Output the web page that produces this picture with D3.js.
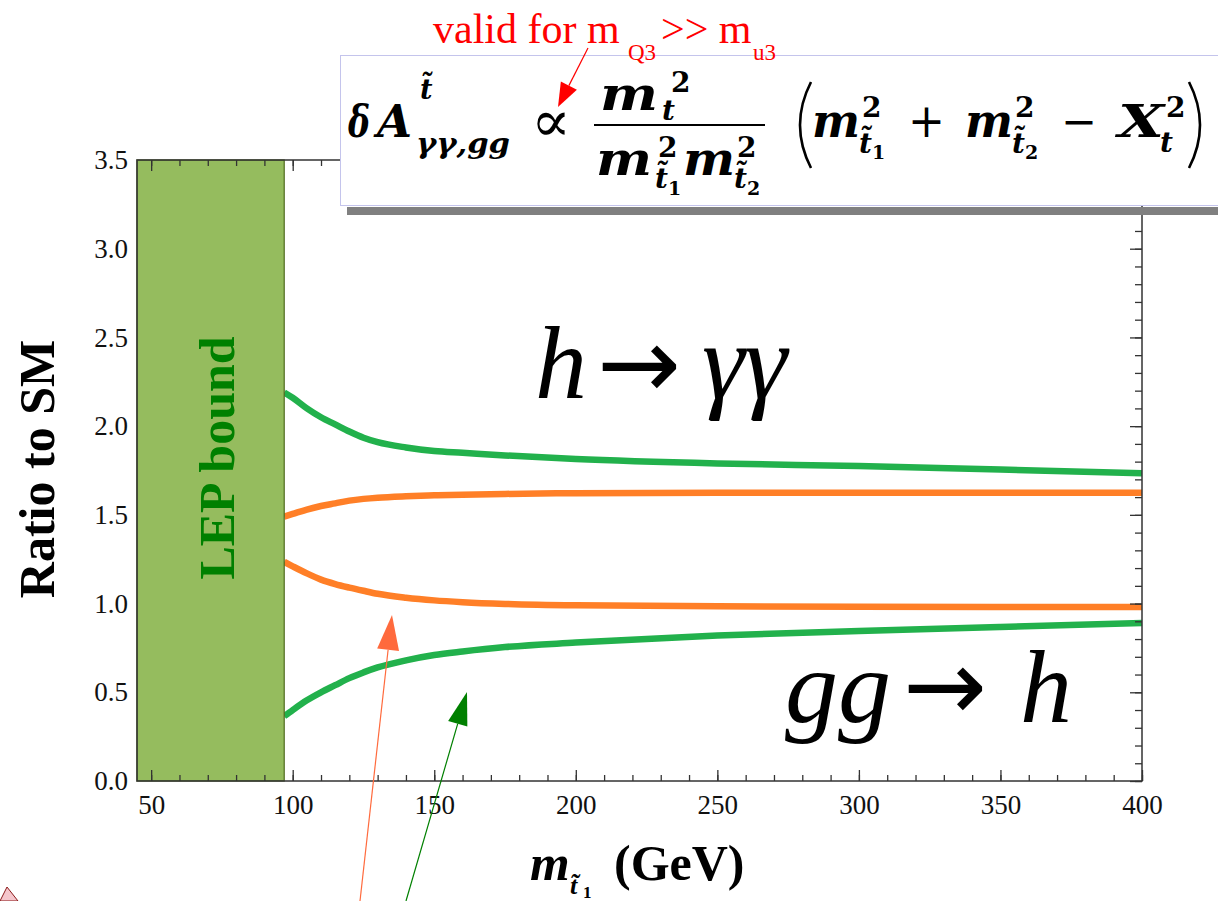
<!DOCTYPE html>
<html>
<head>
<meta charset="utf-8">
<script src="https://cdn.jsdelivr.net/npm/d3@7/dist/d3.min.js"></script>
<style>
  body { margin: 0; background: #fff; }
  svg { display: block; }
</style>
</head>
<body>
<div id="chart"></div>
<script>
const mass = [97, 100, 105, 110, 115, 120, 125, 130, 140, 150, 160, 175, 200, 250, 300, 350, 400];
// h -> gamma gamma, ratio to SM
const hggGreen  = [2.19, 2.16, 2.10, 2.05, 2.01, 1.97, 1.935, 1.91, 1.88, 1.86, 1.85, 1.835, 1.815, 1.79, 1.775, 1.755, 1.735];
const hggOrange = [1.49, 1.505, 1.53, 1.55, 1.565, 1.58, 1.59, 1.597, 1.605, 1.61, 1.614, 1.618, 1.622, 1.625, 1.625, 1.625, 1.625];
// g g -> h, ratio to SM
const gghOrange = [1.235, 1.21, 1.17, 1.135, 1.11, 1.09, 1.072, 1.055, 1.033, 1.018, 1.008, 0.998, 0.99, 0.985, 0.982, 0.981, 0.98];
const gghGreen  = [0.365, 0.40, 0.455, 0.50, 0.54, 0.58, 0.612, 0.64, 0.68, 0.71, 0.73, 0.755, 0.78, 0.82, 0.845, 0.868, 0.89];

const xMajor = [50, 100, 150, 200, 250, 300, 350, 400];
const yMajor = [0, 0.5, 1.0, 1.5, 2.0, 2.5, 3.0, 3.5];
const lepBound = 97;

const W = 1218, H = 901;
const GREEN = "#22b14c", ORANGE = "#ff7f27";

const svg = d3.select("#chart").append("svg")
  .attr("width", W).attr("height", H);

const x = d3.scaleLinear().domain([45, 400]).range([137, 1142]);
const y = d3.scaleLinear().domain([0, 3.5]).range([781, 160]);

// curves
const series = [
  { vals: hggGreen, color: GREEN },
  { vals: hggOrange, color: ORANGE },
  { vals: gghOrange, color: ORANGE },
  { vals: gghGreen, color: GREEN }
];
const line = d3.line()
  .x((d) => x(d[0]))
  .y((d) => y(d[1]))
  .curve(d3.curveMonotoneX);

svg.append("g").selectAll("path")
  .data(series)
  .join("path")
  .attr("fill", "none")
  .attr("stroke", (s) => s.color)
  .attr("stroke-width", 6.5)
  .attr("d", (s) => line(mass.map((m, i) => [m, s.vals[i]])));

// LEP excluded band
svg.append("rect")
  .attr("x", x(45)).attr("y", y(3.5))
  .attr("width", x(lepBound) - x(45))
  .attr("height", y(0) - y(3.5))
  .attr("fill", "#95bc5e")
  .attr("stroke", "#4f6b1e")
  .attr("stroke-width", 1.2);

svg.append("text")
  .attr("transform", "translate(234, 458) rotate(-90)")
  .attr("text-anchor", "middle")
  .attr("font-family", "Liberation Serif, serif")
  .attr("font-weight", "bold")
  .attr("font-size", 50)
  .attr("fill", "#008000")
  .text("LEP bound");

// frame
svg.append("rect")
  .attr("x", x(45)).attr("y", y(3.5))
  .attr("width", x(400) - x(45))
  .attr("height", y(0) - y(3.5))
  .attr("fill", "none")
  .attr("stroke", "#333")
  .attr("stroke-width", 1.5);

// axes: ticks point inward, minor every 10 GeV / 0.1
const axisStyle = (g) => {
  g.select(".domain").remove();
  g.selectAll(".tick line").attr("stroke", "#333").attr("stroke-width", 1.3);
  g.selectAll(".tick text")
    .attr("font-family", "Liberation Serif, serif")
    .attr("font-size", 27)
    .attr("fill", "#111");
};
const xMinor = d3.range(50, 401, 10);
const yMinor = d3.range(0, 36).map((i) => i / 10);

svg.append("g").attr("transform", `translate(0,${y(0)})`)
  .call(d3.axisBottom(x).tickValues(xMinor).tickSizeInner(-6).tickSizeOuter(0).tickFormat(""))
  .call(axisStyle);
svg.append("g").attr("transform", `translate(0,${y(0)})`)
  .call(d3.axisBottom(x).tickValues(xMajor).tickSizeInner(-11).tickSizeOuter(0).tickPadding(14).tickFormat(d3.format("d")))
  .call(axisStyle);
svg.append("g").attr("transform", `translate(0,${y(3.5)})`)
  .call(d3.axisTop(x).tickValues(xMinor).tickSizeInner(-6).tickSizeOuter(0).tickFormat(""))
  .call(axisStyle);
svg.append("g").attr("transform", `translate(0,${y(3.5)})`)
  .call(d3.axisTop(x).tickValues(xMajor).tickSizeInner(-11).tickSizeOuter(0).tickFormat(""))
  .call(axisStyle);
svg.append("g").attr("transform", `translate(${x(400)},0)`)
  .call(d3.axisRight(y).tickValues(yMinor).tickSizeInner(-7).tickSizeOuter(0).tickFormat(""))
  .call(axisStyle);
svg.append("g").attr("transform", `translate(${x(400)},0)`)
  .call(d3.axisRight(y).tickValues(yMajor).tickSizeInner(-12).tickSizeOuter(0).tickFormat(""))
  .call(axisStyle);
svg.append("g").attr("transform", `translate(${x(45)},0)`)
  .call(d3.axisLeft(y).tickValues(yMajor).tickSizeInner(0).tickSizeOuter(0).tickPadding(9).tickFormat(d3.format(".1f")))
  .call(axisStyle);

// axis titles
svg.append("text")
  .attr("transform", "translate(54, 469) rotate(-90)")
  .attr("text-anchor", "middle")
  .attr("font-family", "Liberation Serif, serif")
  .attr("font-weight", "bold")
  .attr("font-size", 50)
  .attr("fill", "#000")
  .text("Ratio to SM");

const txt = (parent, px, py, str, size, opts = {}) => {
  const t = parent.append("text")
    .attr("x", px).attr("y", py)
    .attr("font-family", opts.family || "Liberation Serif, serif")
    .attr("font-size", size)
    .attr("font-weight", opts.weight || "normal")
    .attr("font-style", opts.style || "normal")
    .attr("fill", opts.fill || "#000")
    .attr("text-anchor", opts.anchor || "start")
    .text(str);
  if (opts.len) t.attr("textLength", opts.len).attr("lengthAdjust", "spacingAndGlyphs");
  return t;
};

const xt = svg.append("g");
txt(xt, 530, 880, "m", 51, { weight: "bold", style: "italic" });
txt(xt, 570, 894, "t\u0303", 26, { weight: "bold", style: "italic" });
txt(xt, 583, 898, "1", 17, { weight: "bold" });
txt(xt, 614, 880, "(GeV)", 50, { weight: "bold" });

// process labels
const arrowGlyph = "\u2192";
const arrowFont = { family: "DejaVu Sans, sans-serif", len: 84 };
txt(svg, 535, 398, "h", 104, { style: "italic" });
txt(svg, 597, 398, arrowGlyph, 100, arrowFont);
txt(svg, 702, 398, "\u03b3\u03b3", 108, { style: "italic" });
txt(svg, 785, 722, "gg", 104, { style: "italic", len: 106 });
txt(svg, 903, 720, arrowGlyph, 100, arrowFont);
txt(svg, 1020, 722, "h", 104, { style: "italic" });

// formula box
svg.append("rect").attr("x", 347).attr("y", 207).attr("width", 871).attr("height", 8).attr("fill", "#808080");
svg.append("rect").attr("x", 340.5).attr("y", 55.5).attr("width", 900).attr("height", 150)
  .attr("fill", "#fff").attr("stroke", "#c4c4ec").attr("stroke-width", 1);

const f = svg.append("g");
const MF = "DejaVu Serif, serif";
const bi = (len) => ({ family: MF, weight: "bold", style: "italic", len });
const bu = { family: MF, weight: "bold" };
txt(f, 348, 137, "\u03b4", 44, bi(22));
txt(f, 377, 137, "A", 44, bi(35));
txt(f, 420, 99, "t\u0303", 27, bi());
txt(f, 416, 153, "\u03b3\u03b3,gg", 28, bi(94));
txt(f, 531, 141, "\u221d", 58, { family: MF, len: 40 });
// fraction
txt(f, 600, 110, "m", 46, bi(58));
txt(f, 662, 120, "t", 28, bi());
txt(f, 671, 92, "2", 28, bu);
f.append("line").attr("x1", 594).attr("x2", 765).attr("y1", 125).attr("y2", 125)
  .attr("stroke", "#000").attr("stroke-width", 2.2);
txt(f, 596, 175, "m", 46, bi(56));
txt(f, 658, 157, "2", 28, bu);
txt(f, 655, 188, "t\u0303", 28, bi());
txt(f, 668, 195, "1", 19, bu);
txt(f, 683, 175, "m", 46, bi(52));
txt(f, 737, 157, "2", 28, bu);
txt(f, 734, 188, "t\u0303", 28, bi());
txt(f, 747, 195, "2", 19, bu);
// large parentheses
f.append("path").attr("d", "M811,82 Q789,125 811,168").attr("fill", "none").attr("stroke", "#000").attr("stroke-width", 2.6);
f.append("path").attr("d", "M1189,82 Q1211,125 1189,168").attr("fill", "none").attr("stroke", "#000").attr("stroke-width", 2.6);
txt(f, 812, 137, "m", 46, bi(48));
txt(f, 862, 117, "2", 28, bu);
txt(f, 859, 153, "t\u0303", 28, bi());
txt(f, 872, 159, "1", 19, bu);
txt(f, 908, 137, "+", 46, { family: MF, len: 37 });
txt(f, 965, 137, "m", 46, bi(48));
txt(f, 1015, 117, "2", 28, bu);
txt(f, 1012, 153, "t\u0303", 28, bi());
txt(f, 1025, 159, "2", 19, bu);
txt(f, 1061, 137, "\u2212", 46, { family: MF, len: 36 });
txt(f, 1118, 137, "X", 44, bi(46));
txt(f, 1166, 117, "2", 28, bu);
txt(f, 1160, 152, "t", 28, bi());

// red note
const red = svg.append("g");
txt(red, 433, 43, "valid for m", 42, { fill: "#ff0000" });
txt(red, 628, 60, "Q3", 23, { fill: "#ff0000" });
txt(red, 661, 43, ">> m", 42, { fill: "#ff0000" });
txt(red, 753, 60, "u3", 23, { fill: "#ff0000" });

// annotation arrows
const arrow = (x1, y1, x2, y2, color, headLen, headHalf, lw) => {
  const dx = x2 - x1, dy = y2 - y1, len = Math.hypot(dx, dy);
  const ux = dx / len, uy = dy / len;
  const bx = x2 - ux * headLen, by = y2 - uy * headLen;
  svg.append("line").attr("x1", x1).attr("y1", y1).attr("x2", bx).attr("y2", by)
    .attr("stroke", color).attr("stroke-width", lw);
  svg.append("path")
    .attr("d", `M${x2},${y2}L${bx - uy * headHalf},${by + ux * headHalf}L${bx + uy * headHalf},${by - ux * headHalf}Z`)
    .attr("fill", color);
};
arrow(588, 48, 558, 107, "#ff0000", 24, 9, 1.2);
arrow(360, 901, 392, 615, "#ff6a3d", 35, 11, 1.2);
arrow(406, 901, 467, 692, "#008000", 33, 10, 1.2);

// stray shape at the lower left edge
svg.append("path").attr("d", "M7,887L0,901L18,901Z")
  .attr("fill", "#f5c6cc").attr("stroke", "#8b1a1a").attr("stroke-width", 1);
</script>
</body>
</html>
